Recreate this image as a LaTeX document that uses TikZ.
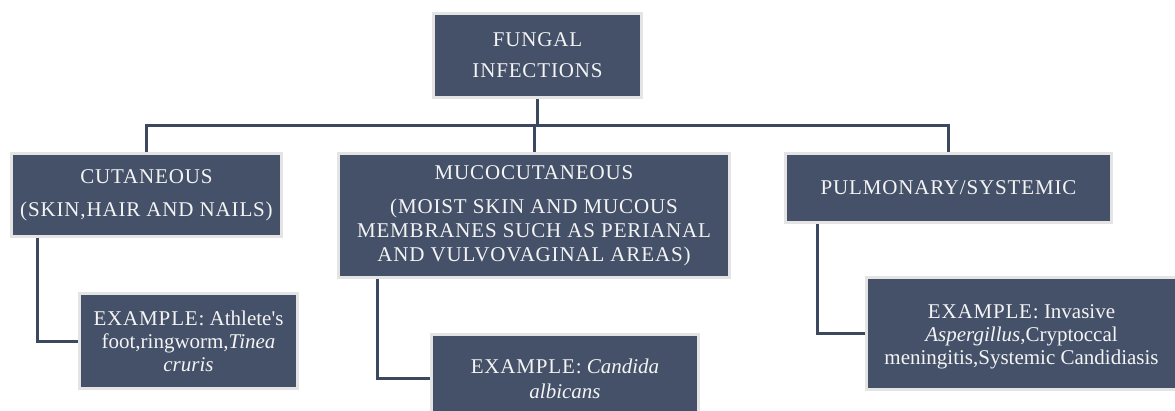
\documentclass[tikz,border=0pt]{standalone}
\usepackage{fontspec}
\setmainfont{Liberation Serif}
\usetikzlibrary{backgrounds,calc}
\definecolor{boxfill}{HTML}{445169}
\definecolor{boxedge}{HTML}{E4E4E4}
\definecolor{linkcol}{HTML}{3C4860}
\definecolor{txt}{HTML}{F4F4F4}
\newcommand{\spcaps}{\addfontfeatures{LetterSpace=4}}
\tikzset{
  box/.style={draw=boxedge, line width=3pt, fill=boxfill, text=txt, inner sep=0pt,
    anchor=north west, align=center, font=\fontsize{21}{23}\selectfont},
  capbox/.style={box, font=\fontsize{21}{23}\selectfont\spcaps},
  link/.style={draw=linkcol, line width=3pt},
}
\begin{document}
\begin{tikzpicture}[x=1pt,y=1pt]
\useasboundingbox (0,0) rectangle (1175,-410);
\node[capbox, minimum width=208, minimum height=84] (top) at (432,-12) {FUNGAL\\[8pt]INFECTIONS};
\node[capbox, minimum width=270, minimum height=83] (cut) at (10,-152) {CUTANEOUS\\[10pt](SKIN,HAIR AND NAILS)};
\node[capbox, minimum width=391, minimum height=124, font=\fontsize{21}{24}\selectfont\spcaps] (muc) at (337,-152) {MUCOCUTANEOUS\\[10pt](MOIST SKIN AND MUCOUS\\MEMBRANES SUCH AS PERIANAL\\AND VULVOVAGINAL AREAS)};
\node[capbox, minimum width=326, minimum height=69] (pul) at (784,-152) {PULMONARY/SYSTEMIC};
\node[box, minimum width=218, minimum height=95] (ex1) at (78,-292) {{\spcaps EXAMPLE:} Athlete\textquotesingle s\\foot,ringworm,\textit{Tinea}\\\textit{cruris}};
\node[box, minimum width=267, minimum height=88] (ex2) at (430,-333) {{\spcaps EXAMPLE:} \textit{Candida}\\[2pt]\textit{albicans}};
\node[box, minimum width=310, minimum height=112] (ex3) at (865,-276) {\rule{0pt}{20pt}{\spcaps EXAMPLE:} Invasive\\\textit{Aspergillus},Cryptoccal\\meningitis,Systemic Candidiasis};
\coordinate (j) at ($(top.south)+(0,-26)$);
\begin{scope}[on background layer]
\draw[link] (top.south) -- (top.south |- j);
\draw[link] (cut.north) -- (cut.north |- j) -- (pul.north |- j) -- (pul.north);
\draw[link] (muc.north) -- (muc.north |- j);
\draw[link] ($(cut.south west)+(27,0)$) |- (ex1.west);
\draw[link] ($(muc.south west)+(40,0)$) |- (ex2.west);
\draw[link] ($(pul.south west)+(33,0)$) |- (ex3.west);
\end{scope}
\end{tikzpicture}
\end{document}
